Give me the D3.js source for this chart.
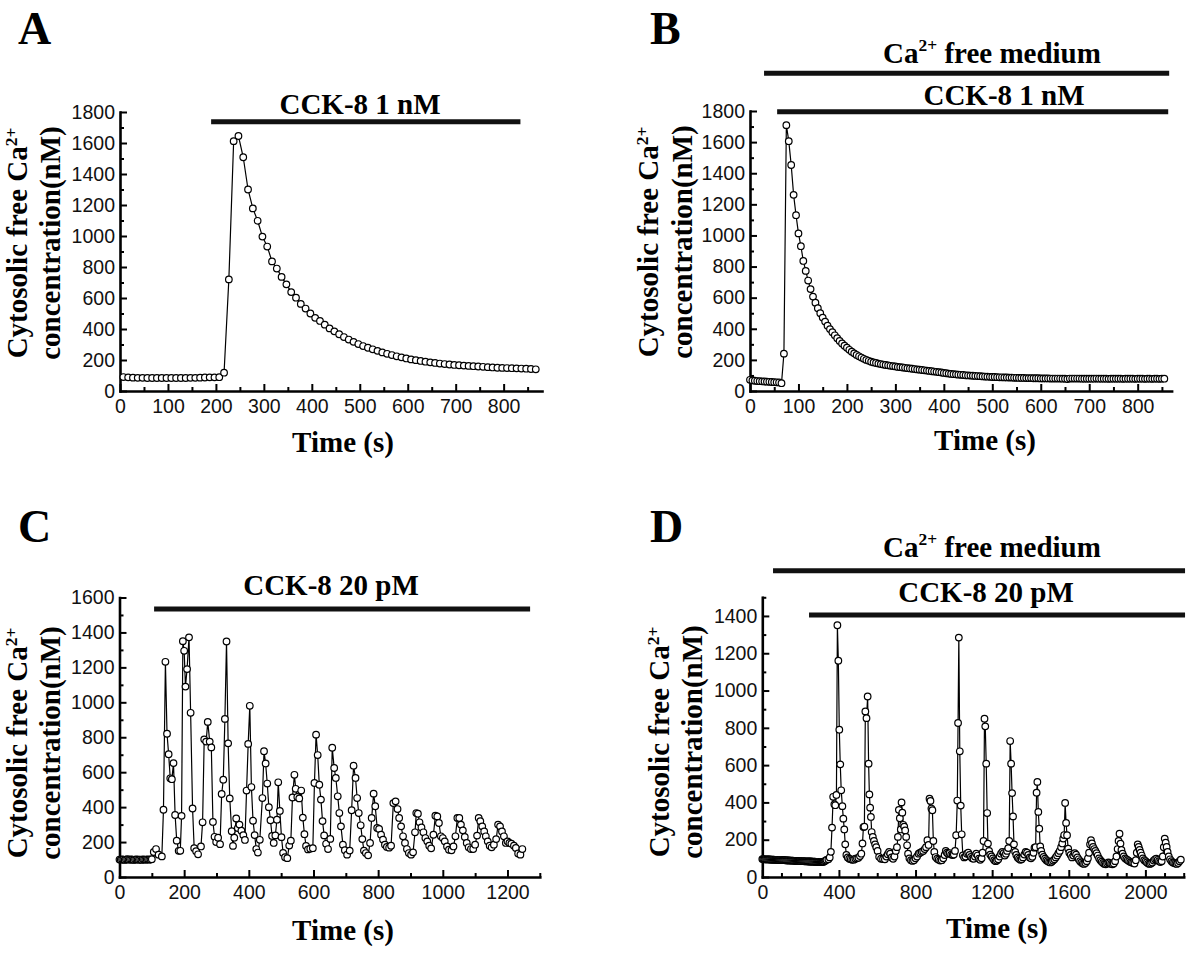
<!DOCTYPE html>
<html><head><meta charset="utf-8">
<script src="https://cdn.jsdelivr.net/npm/d3@7/dist/d3.min.js"></script>
<style>body{margin:0;background:#fff}svg{display:block}</style>
</head><body>
<svg id="chart" width="1200" height="955"></svg>
<script>
// ---------------- DATA ----------------
// Panel A: CCK-8 1 nM, sampled every 10 s starting at 7 s
const startA = 7, stepA = 10;
const valuesA = [90,88,86,85,85,84,84,84,84,84,84,84,84,84,85,85,86,87,88,88,89,
 118,720,1612,1645,1508,1300,1178,1098,996,932,836,790,736,688,638,602,562,532,500,472,452,428,404,385,366,348,332,317,303,290,279,269,259,249,240,232,224,217,210,204,199,194,189,185,181,177,174,171,168,166,164,162,160,158,156,154,152,150,149,148,147,146,145,144,142,140];

// Panel B: Ca2+ free medium + CCK-8 1 nM, sampled every 5 s from 0 s
const startB = 0, stepB = 5;
const valuesB = [72,68,66,64,63,62,61,60,59,58,57,56,55,50,240,
 1709,1606,1453,1261,1130,1013,931,836,772,710,655,607,568,532,500,472,446,420,398,
 378,358,339,322,306,291,278,265,253,242,232,223,215,207,200,194,
 188,184,180,176,173,170,167,165,162,160,158,
 155,153,151,149,147,145,143,141,139,137,135,133,131,129,127,125,123,121,119,116,
 114,112,110,108,107,105,104,103,101,100,99,98,97,96,95,94,93,92,91,90,
 90,89,88,88,87,87,86,86,85,85,84,84,84,83,83,83,82,82,82,81,
 81,81,81,80,80,80,80,80,79,79,77,80,80,80,80,80,79,79,79,79,
 79,79,80,79,79,79,79,78,79,79,79,79,79,78,79,79,79,79,78,79,
 79,79,78,79,79,78,79,79,78,79,79];

// Panel C: CCK-8 20 pM, [time s, nM]
const seriesC = [[0,100],[4,99],[8,101],[12,100],[16,98],[20,100],[24,102],[28,99],[32,100],[36,101],[40,99],[44,98],[48,100],[52,101],[56,100],[60,99],[64,100],[68,98],[72,101],[76,100],[80,99],[84,100],[88,101],[92,99],[96,100],[100,102],
 [106,143],[113,160],[121,128],[131,118],[136,385],[142,1232],[147,820],[152,703],[157,565],[162,560],[167,652],[172,355],[177,208],[183,150],[188,150],[192,350],[196,1350],[200,1295],[204,1090],[209,1190],[215,1372],[220,940],[226,392],[231,165],[237,148],[243,130],[252,175],[257,313],[262,788],[268,775],[273,888],[279,775],[284,742],[289,315],[294,230],[299,200],[305,225],[311,188],[316,475],[321,557],[326,905],[331,1348],[336,765],[341,450],[347,262],[351,178],[355,225],[361,335],[366,280],[371,300],[377,265],[383,240],[388,212],[393,495],[398,762],[403,980],[408,515],[413,322],[418,240],[423,160],[428,140],[434,213],[442,452],[447,720],[452,650],[457,535],[462,400],[467,325],[472,235],[477,195],[482,238],[487,328],[491,542],[496,378],[501,228],[506,138],[512,113],[519,108],[525,180],[530,208],[535,455],[541,585],[545,505],[550,458],[556,450],[562,495],[567,340],[572,245],[577,178],[583,158],[590,162],[598,165],[603,538],[608,815],[613,698],[618,528],[623,443],[628,320],[633,238],[639,190],[645,160],[652,218],[658,740],[664,624],[669,567],[675,462],[680,366],[685,290],[691,185],[697,153],[704,128],[712,151],[718,382],[724,637],[730,567],[735,452],[740,366],[746,296],[751,217],[756,151],[762,137],[769,124],[775,195],[780,338],[786,477],[791,405],[797,281],[803,275],[809,242],[815,214],[821,185],[827,172],[834,168],[840,179],[847,423],[854,433],[860,389],[865,338],[871,290],[877,233],[883,195],[889,160],[895,137],[902,128],[908,141],[914,256],[918,366],[923,362],[928,313],[934,284],[940,256],[946,223],[952,204],[958,179],[964,164],[971,242],[977,351],[983,347],[988,309],[994,233],[1000,223],[1006,204],[1013,175],[1019,156],[1027,153],[1033,175],[1039,233],[1045,338],[1051,338],[1056,300],[1062,267],[1068,229],[1074,195],[1080,170],[1087,160],[1094,160],[1100,185],[1106,237],[1111,338],[1116,319],[1122,290],[1128,261],[1133,233],[1139,204],[1145,179],[1151,170],[1158,185],[1165,217],[1171,300],[1177,290],[1183,261],[1189,233],[1195,195],[1200,204],[1206,195],[1212,191],[1220,179],[1226,166],[1233,135],[1240,128],[1246,160]];

// Panel D: Ca2+ free medium + CCK-8 20 pM
const baselineD = [96,96,95,95,95,94,94,94,94,93,93,93,93,92,92,92,92,91,91,91,91,90,90,90,90,89,89,89,89,88,88,88,88,87,87,87,86,86,86,86,85,85,85,85,84,84,84,84,83,83,83,83,82,82,82,82,81,81,81,81,80,80,80,80,82,84,88,92]; // every 5 s from 0 s
const seriesD = [[345,95],[352,105],[358,135],[364,265],[370,430],[376,390],[381,385],[387,440],[392,1350],[397,1160],[402,790],[407,604],[412,465],[418,380],[423,313],[428,255],[433,175],[439,118],[446,105],[454,98],[462,95],[470,92],[478,93],[486,98],[494,100],[502,103],[510,112],[517,125],[523,180],[528,268],[533,270],[538,888],[544,852],[550,968],[555,608],[559,443],[563,372],[567,322],[571,241],[577,215],[583,193],[589,175],[595,160],[602,140],[610,108],[620,98],[630,96],[640,95],[648,110],[655,122],[662,135],[668,125],[675,105],[683,98],[690,110],[697,140],[703,160],[708,215],[713,360],[718,315],[723,255],[727,400],[731,345],[736,280],[741,270],[746,250],[751,215],[756,170],[761,125],[768,100],[776,90],[784,86],[792,90],[800,100],[808,110],[816,125],[824,130],[832,135],[840,140],[848,150],[855,160],[862,197],[868,172],[873,420],[878,408],[883,367],[888,358],[893,193],[898,134],[905,107],[913,98],[921,93],[929,88],[937,90],[945,100],[952,118],[958,140],[964,130],[970,125],[978,128],[986,120],[994,118],[1000,120],[1006,140],[1012,224],[1018,410],[1022,826],[1026,1284],[1031,674],[1036,383],[1041,229],[1047,116],[1054,105],[1061,110],[1068,125],[1075,130],[1082,118],[1089,108],[1096,100],[1103,98],[1110,110],[1117,125],[1124,115],[1131,98],[1138,92],[1145,100],[1150,130],[1155,193],[1160,849],[1164,808],[1169,608],[1174,343],[1178,179],[1184,140],[1190,120],[1197,110],[1204,100],[1211,90],[1218,85],[1225,88],[1232,95],[1239,110],[1246,125],[1253,135],[1260,128],[1266,115],[1272,125],[1278,140],[1284,155],[1289,193],[1294,729],[1299,608],[1304,450],[1309,325],[1314,175],[1320,135],[1326,118],[1333,105],[1340,98],[1347,92],[1354,95],[1361,105],[1368,120],[1375,135],[1382,130],[1389,118],[1396,105],[1403,100],[1410,108],[1416,130],[1421,157],[1427,160],[1432,452],[1436,510],[1441,349],[1446,259],[1451,164],[1456,140],[1462,120],[1469,108],[1476,98],[1483,90],[1490,85],[1497,80],[1504,78],[1511,82],[1518,88],[1525,95],[1532,105],[1539,115],[1546,128],[1553,140],[1560,160],[1566,180],[1571,206],[1576,225],[1581,397],[1586,290],[1591,224],[1597,152],[1603,130],[1610,118],[1617,105],[1624,115],[1631,128],[1638,120],[1645,105],[1652,95],[1659,85],[1666,78],[1673,72],[1680,70],[1687,75],[1694,85],[1700,100],[1706,130],[1711,175],[1716,197],[1721,180],[1727,161],[1733,150],[1739,140],[1745,128],[1751,115],[1758,100],[1765,90],[1772,82],[1779,75],[1786,70],[1793,68],[1800,72],[1807,78],[1814,75],[1821,70],[1828,68],[1835,72],[1842,85],[1849,110],[1855,150],[1860,193],[1865,232],[1870,179],[1875,145],[1881,125],[1887,110],[1894,100],[1901,95],[1908,90],[1915,85],[1922,80],[1929,78],[1936,75],[1943,72],[1950,90],[1955,130],[1960,175],[1965,161],[1970,145],[1975,130],[1981,115],[1987,100],[1994,90],[2001,85],[2008,78],[2015,72],[2022,70],[2029,72],[2036,78],[2043,88],[2050,95],[2057,98],[2064,92],[2071,85],[2078,80],[2085,85],[2091,110],[2096,160],[2101,206],[2106,184],[2111,161],[2116,134],[2122,110],[2129,95],[2136,85],[2143,78],[2150,75],[2157,72],[2164,70],[2171,75],[2178,85],[2185,93]];

// Treatment bars [start s, end s]
const barsA = [{label:"CCK-8 1 nM", span:[190,835]}];
const barsB = [{label:"Ca2+ free medium", span:[29,865]},{label:"CCK-8 1 nM", span:[56,863]}];
const barsC = [{label:"CCK-8 20 pM", span:[107,1270]}];
const barsD = [{label:"Ca2+ free medium", span:[56,2207]},{label:"CCK-8 20 pM", span:[244,2207]}];

// Axis ticks
const xMajorAB = [0,100,200,300,400,500,600,700,800], xMinorAB = [50,150,250,350,450,550,650,750,850];
const yMajorAB = [0,200,400,600,800,1000,1200,1400,1600,1800], yMinorAB = [100,300,500,700,900,1100,1300,1500,1700];
const xMajorC = [0,200,400,600,800,1000,1200], xMinorC = [100,300,500,700,900,1100,1300];
const yMajorC = [0,200,400,600,800,1000,1200,1400,1600], yMinorC = [100,300,500,700,900,1100,1300,1500];
const xMajorD = [0,400,800,1200,1600,2000], xMinorD = [100,200,300,500,600,700,900,1000,1100,1300,1400,1500,1700,1800,1900,2100,2200];
const yMajorD = [0,200,400,600,800,1000,1200,1400], yMinorD = [100,300,500,700,900,1100,1300,1500];

// ---------------- BUILD ----------------
const pointsA = valuesA.map((v,i)=>[startA+stepA*i, v]);
const pointsB = valuesB.map((v,i)=>[startB+stepB*i, v]);
const pointsD = baselineD.map((v,i)=>[5*i, v]).concat(seriesD);

const svg = d3.select("#chart");
const serif = "'Liberation Serif','Times New Roman',serif";
const sans = "'Liberation Sans',Arial,sans-serif";

const panels = [
 {letter:"A", lx:18, ly:44, pts:pointsA, xd:[0,880], xr:[120,542], yd:[0,1800], yr:[391,112],
  xM:xMajorAB, xm:xMinorAB, yM:yMajorAB, ym:yMinorAB, bars:barsA,
  barY:[121.7], labX:[360], labY:[114], t1x:27, t2x:60, ty:243, timeX:343, timeY:452},
 {letter:"B", lx:650, ly:44, pts:pointsB, xd:[0,870], xr:[750,1171.6], yd:[0,1800], yr:[391,111],
  xM:xMajorAB, xm:xMinorAB, yM:yMajorAB, ym:yMinorAB, bars:barsB,
  barY:[73.3,111.7], labX:[992,1004], labY:[63,105], t1x:658, t2x:692, ty:242, timeX:985, timeY:450},
 {letter:"C", lx:18, ly:542, pts:seriesC, xd:[0,1300], xr:[119.5,539.8], yd:[0,1600], yr:[877,597.5],
  xM:xMajorC, xm:xMinorC, yM:yMajorC, ym:yMinorC, bars:barsC,
  barY:[609], labX:[331], labY:[595], t1x:27, t2x:60, ty:743, timeX:343, timeY:940},
 {letter:"D", lx:650, ly:542, pts:pointsD, xd:[0,2200], xr:[762.3,1183.7], yd:[0,1500], yr:[877,597.3],
  xM:xMajorD, xm:xMinorD, yM:yMajorD, ym:yMinorD, bars:barsD,
  barY:[570.7,615], labX:[992,986], labY:[557,602], t1x:669, t2x:702, ty:742, timeX:997, timeY:938}
];

function caText(sel, label, size, shift){
  const parts = label.split("2+");
  sel.append("tspan").text(parts[0]);
  sel.append("tspan").attr("font-size", size*0.6).attr("dy", -size*shift).text("2+");
  if (parts[1]) sel.append("tspan").attr("dy", size*shift).text(parts[1]);
}

panels.forEach(p=>{
  const g = svg.append("g");
  const x = d3.scaleLinear().domain(p.xd).range(p.xr);
  const y = d3.scaleLinear().domain(p.yd).range(p.yr);

  g.append("text").attr("x",p.lx).attr("y",p.ly).attr("font-family",serif).attr("font-weight","bold")
   .attr("font-size",46).text(p.letter);

  const gxm = g.append("g").attr("transform",`translate(0,${p.yr[0]})`)
   .call(d3.axisBottom(x).tickValues(p.xm).tickSize(-4).tickSizeOuter(0).tickFormat(""));
  gxm.select(".domain").remove();
  const gym = g.append("g").attr("transform",`translate(${p.xr[0]},0)`)
   .call(d3.axisLeft(y).tickValues(p.ym).tickSize(-4).tickSizeOuter(0).tickFormat(""));
  gym.select(".domain").remove();
  const gx = g.append("g").attr("transform",`translate(0,${p.yr[0]})`)
   .call(d3.axisBottom(x).tickValues(p.xM).tickSize(-7).tickSizeOuter(0).tickPadding(8).tickFormat(d3.format("d")));
  const gy = g.append("g").attr("transform",`translate(${p.xr[0]},0)`)
   .call(d3.axisLeft(y).tickValues(p.yM).tickSize(-7).tickSizeOuter(0).tickPadding(5).tickFormat(d3.format("d")));
  [gx,gy,gxm,gym].forEach(a=>{
    a.attr("font-family",sans).attr("font-size",19.5);
    a.selectAll(".tick line").attr("stroke","#000").attr("stroke-width",2);
    a.selectAll(".tick text").attr("fill","#111");
    a.select(".domain").attr("stroke","#000").attr("stroke-width",2.6).attr("stroke-linecap","square");
  });

  const line = d3.line().x(d=>x(d[0])).y(d=>y(d[1]));
  g.append("path").datum(p.pts).attr("d",line).attr("fill","none").attr("stroke","#000").attr("stroke-width",1.2);
  g.append("g").selectAll("circle").data(p.pts).join("circle")
   .attr("cx",d=>x(d[0])).attr("cy",d=>y(d[1])).attr("r",3.3)
   .attr("fill","#fff").attr("stroke","#000").attr("stroke-width",1.2);

  p.bars.forEach((b,i)=>{
    g.append("line").attr("x1",x(b.span[0])).attr("x2",x(b.span[1]))
     .attr("y1",p.barY[i]).attr("y2",p.barY[i]).attr("stroke","#111").attr("stroke-width",5);
    const t = g.append("text").attr("x",p.labX[i]).attr("y",p.labY[i]).attr("text-anchor","middle")
     .attr("font-family",serif).attr("font-weight","bold").attr("font-size",29).style("white-space","pre");
    if (b.label.indexOf("2+")>=0) caText(t,b.label,29,0.42); else t.text(b.label);
  });

  const t1 = g.append("text").attr("transform",`translate(${p.t1x},${p.ty}) rotate(-90)`)
   .attr("text-anchor","middle").attr("font-family",serif).attr("font-weight","bold").attr("font-size",29);
  caText(t1,"Cytosolic free Ca2+",29,0.36);
  g.append("text").attr("transform",`translate(${p.t2x},${p.ty}) rotate(-90)`)
   .attr("text-anchor","middle").attr("font-family",serif).attr("font-weight","bold").attr("font-size",29)
   .text("concentration(nM)");

  g.append("text").attr("x",p.timeX).attr("y",p.timeY).attr("text-anchor","middle")
   .attr("font-family",serif).attr("font-weight","bold").attr("font-size",29).text("Time (s)");
});
</script>
</body></html>
